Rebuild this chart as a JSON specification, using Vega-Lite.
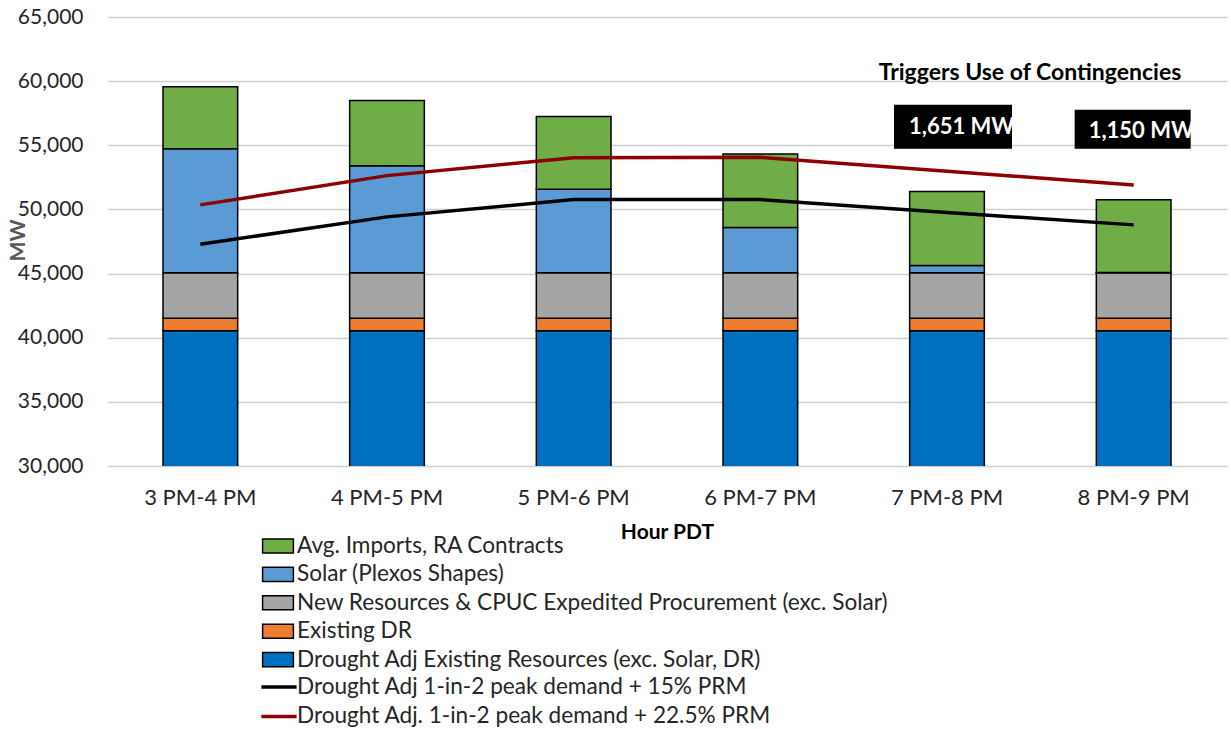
{
  "$schema": "https://vega.github.io/schema/vega-lite/v6.json",
  "width": 1120,
  "height": 449,
  "autosize": {"type": "none"},
  "padding": {"left": 107, "top": 17, "right": 4, "bottom": 263},
  "background": "white",
  "config": {
    "view": {"stroke": null},
    "font": "Lato",
    "text": {"font": "Lato"}
  },
  "datasets": {
    "bars": [
      {"hour": "3 PM-4 PM", "resource": "Drought Adj Existing Resources (exc. Solar, DR)", "k": 1, "mw": 40540},
      {"hour": "3 PM-4 PM", "resource": "Existing DR", "k": 2, "mw": 984},
      {"hour": "3 PM-4 PM", "resource": "New Resources & CPUC Expedited Procurement (exc. Solar)", "k": 3, "mw": 3534},
      {"hour": "3 PM-4 PM", "resource": "Solar (Plexos Shapes)", "k": 4, "mw": 9679},
      {"hour": "3 PM-4 PM", "resource": "Avg. Imports, RA Contracts", "k": 5, "mw": 4828},
      {"hour": "4 PM-5 PM", "resource": "Drought Adj Existing Resources (exc. Solar, DR)", "k": 1, "mw": 40540},
      {"hour": "4 PM-5 PM", "resource": "Existing DR", "k": 2, "mw": 984},
      {"hour": "4 PM-5 PM", "resource": "New Resources & CPUC Expedited Procurement (exc. Solar)", "k": 3, "mw": 3534},
      {"hour": "4 PM-5 PM", "resource": "Solar (Plexos Shapes)", "k": 4, "mw": 8355},
      {"hour": "4 PM-5 PM", "resource": "Avg. Imports, RA Contracts", "k": 5, "mw": 5085},
      {"hour": "5 PM-6 PM", "resource": "Drought Adj Existing Resources (exc. Solar, DR)", "k": 1, "mw": 40540},
      {"hour": "5 PM-6 PM", "resource": "Existing DR", "k": 2, "mw": 984},
      {"hour": "5 PM-6 PM", "resource": "New Resources & CPUC Expedited Procurement (exc. Solar)", "k": 3, "mw": 3534},
      {"hour": "5 PM-6 PM", "resource": "Solar (Plexos Shapes)", "k": 4, "mw": 6510},
      {"hour": "5 PM-6 PM", "resource": "Avg. Imports, RA Contracts", "k": 5, "mw": 5684},
      {"hour": "6 PM-7 PM", "resource": "Drought Adj Existing Resources (exc. Solar, DR)", "k": 1, "mw": 40540},
      {"hour": "6 PM-7 PM", "resource": "Existing DR", "k": 2, "mw": 984},
      {"hour": "6 PM-7 PM", "resource": "New Resources & CPUC Expedited Procurement (exc. Solar)", "k": 3, "mw": 3534},
      {"hour": "6 PM-7 PM", "resource": "Solar (Plexos Shapes)", "k": 4, "mw": 3528},
      {"hour": "6 PM-7 PM", "resource": "Avg. Imports, RA Contracts", "k": 5, "mw": 5739},
      {"hour": "7 PM-8 PM", "resource": "Drought Adj Existing Resources (exc. Solar, DR)", "k": 1, "mw": 40540},
      {"hour": "7 PM-8 PM", "resource": "Existing DR", "k": 2, "mw": 984},
      {"hour": "7 PM-8 PM", "resource": "New Resources & CPUC Expedited Procurement (exc. Solar)", "k": 3, "mw": 3534},
      {"hour": "7 PM-8 PM", "resource": "Solar (Plexos Shapes)", "k": 4, "mw": 569},
      {"hour": "7 PM-8 PM", "resource": "Avg. Imports, RA Contracts", "k": 5, "mw": 5762},
      {"hour": "8 PM-9 PM", "resource": "Drought Adj Existing Resources (exc. Solar, DR)", "k": 1, "mw": 40540},
      {"hour": "8 PM-9 PM", "resource": "Existing DR", "k": 2, "mw": 984},
      {"hour": "8 PM-9 PM", "resource": "New Resources & CPUC Expedited Procurement (exc. Solar)", "k": 3, "mw": 3534},
      {"hour": "8 PM-9 PM", "resource": "Solar (Plexos Shapes)", "k": 4, "mw": 30},
      {"hour": "8 PM-9 PM", "resource": "Avg. Imports, RA Contracts", "k": 5, "mw": 5662}
    ],
    "lines": [
      {"hour": "3 PM-4 PM", "series": "Drought Adj 1-in-2 peak demand + 15% PRM", "mw": 47286},
      {"hour": "4 PM-5 PM", "series": "Drought Adj 1-in-2 peak demand + 15% PRM", "mw": 49420},
      {"hour": "5 PM-6 PM", "series": "Drought Adj 1-in-2 peak demand + 15% PRM", "mw": 50766},
      {"hour": "6 PM-7 PM", "series": "Drought Adj 1-in-2 peak demand + 15% PRM", "mw": 50766},
      {"hour": "7 PM-8 PM", "series": "Drought Adj 1-in-2 peak demand + 15% PRM", "mw": 49760},
      {"hour": "8 PM-9 PM", "series": "Drought Adj 1-in-2 peak demand + 15% PRM", "mw": 48796},
      {"hour": "3 PM-4 PM", "series": "Drought Adj. 1-in-2 peak demand + 22.5% PRM", "mw": 50354},
      {"hour": "4 PM-5 PM", "series": "Drought Adj. 1-in-2 peak demand + 22.5% PRM", "mw": 52635},
      {"hour": "5 PM-6 PM", "series": "Drought Adj. 1-in-2 peak demand + 22.5% PRM", "mw": 54037},
      {"hour": "6 PM-7 PM", "series": "Drought Adj. 1-in-2 peak demand + 22.5% PRM", "mw": 54060},
      {"hour": "7 PM-8 PM", "series": "Drought Adj. 1-in-2 peak demand + 22.5% PRM", "mw": 52970},
      {"hour": "8 PM-9 PM", "series": "Drought Adj. 1-in-2 peak demand + 22.5% PRM", "mw": 51911}
    ],
    "boxes": [
      {"hour": "7 PM-8 PM", "top": 58164, "bottom": 54737, "ty": 56450, "label": "1,651 MW"},
      {"hour": "8 PM-9 PM", "top": 57775, "bottom": 54737, "ty": 56084, "label": "1,150 MW"}
    ],
    "heading": [
      {"hour": "7 PM-8 PM", "ty": 60655, "label": "Triggers Use of Contingencies"}
    ]
  },
  "encoding": {
    "x": {
      "field": "hour",
      "type": "nominal",
      "sort": null,
      "scale": {"paddingInner": 0.6, "paddingOuter": 0.3},
      "axis": {
        "title": "Hour PDT",
        "labelAngle": 0,
        "labelFont": "Lato",
        "labelFontSize": 22,
        "labelColor": "#262626",
        "labelPadding": 21,
        "domain": false,
        "ticks": false,
        "titleFont": "Lato",
        "titleFontSize": 21,
        "titleFontWeight": "bold",
        "titleColor": "#000000",
        "titlePadding": 13
      }
    }
  },
  "layer": [
    {
      "data": {"name": "bars"},
      "mark": {"type": "bar", "stroke": "black", "strokeWidth": 1.5, "clip": true},
      "encoding": {
        "y": {
          "field": "mw",
          "type": "quantitative",
          "stack": "zero",
          "scale": {"domain": [30000, 65000], "nice": false, "zero": false},
          "axis": {
            "title": "MW",
            "values": [30000, 35000, 40000, 45000, 50000, 55000, 60000, 65000],
            "format": ",d",
            "grid": true,
            "gridColor": "#d0d0d0",
            "gridWidth": 1.3,
            "domain": false,
            "ticks": false,
            "labelFont": "Lato",
            "labelFontSize": 21,
            "labelColor": "#262626",
            "labelPadding": 24,
            "titleFont": "Lato",
            "titleFontSize": 21,
            "titleFontWeight": "bold",
            "titleColor": "#595959",
            "titleAngle": -90,
            "titleX": -89,
            "titleY": 223,
            "titleAlign": "center",
            "titleBaseline": "middle"
          }
        },
        "fill": {
          "field": "resource",
          "type": "nominal",
          "scale": {
            "domain": [
              "Avg. Imports, RA Contracts",
              "Solar (Plexos Shapes)",
              "New Resources & CPUC Expedited Procurement (exc. Solar)",
              "Existing DR",
              "Drought Adj Existing Resources (exc. Solar, DR)"
            ],
            "range": ["#70AD47", "#5B9BD5", "#A5A5A5", "#ED7D31", "#0070C0"]
          },
          "legend": {
            "orient": "none",
            "legendX": 159,
            "legendY": 517,
            "title": null,
            "padding": 0,
            "direction": "vertical",
            "symbolType": "M-1.4,-0.64H1.4V0.64H-1.4Z",
            "symbolSize": 484,
            "symbolStrokeColor": "black",
            "symbolStrokeWidth": 1.5,
            "symbolOpacity": 1,
            "labelFont": "Lato",
            "labelFontSize": 22.6,
            "labelColor": "#262626",
            "labelOffset": 7,
            "rowPadding": 4.4,
            "labelLimit": 800
          }
        },
        "order": {"field": "k", "type": "quantitative"}
      }
    },
    {
      "data": {"name": "lines"},
      "mark": {"type": "line", "strokeWidth": 3.5},
      "encoding": {
        "y": {"field": "mw", "type": "quantitative"},
        "stroke": {
          "field": "series",
          "type": "nominal",
          "scale": {
            "domain": [
              "Drought Adj 1-in-2 peak demand + 15% PRM",
              "Drought Adj. 1-in-2 peak demand + 22.5% PRM"
            ],
            "range": ["#000000", "#8C0000"]
          },
          "legend": {
            "orient": "none",
            "legendX": 159,
            "legendY": 657,
            "title": null,
            "padding": 0,
            "direction": "vertical",
            "symbolType": "M-1.6,0H1.6",
            "symbolSize": 484,
            "symbolStrokeWidth": 3.5,
            "labelFont": "Lato",
            "labelFontSize": 22.6,
            "labelColor": "#262626",
            "labelOffset": 5,
            "rowPadding": 4.4,
            "labelLimit": 800
          }
        }
      }
    },
    {
      "data": {"name": "boxes"},
      "transform": [{"filter": "datum.label === '1,651 MW'"}],
      "layer": [
        {
          "mark": {"type": "bar", "color": "black", "width": 118, "xOffset": 6},
          "encoding": {
            "y": {"field": "top", "type": "quantitative"},
            "y2": {"field": "bottom"}
          }
        },
        {
          "mark": {"type": "text", "color": "white", "font": "Lato", "fontWeight": "bold", "fontSize": 22, "align": "left", "baseline": "middle", "dx": -38},
          "encoding": {
            "y": {"field": "ty", "type": "quantitative"},
            "text": {"field": "label"}
          }
        }
      ]
    },
    {
      "data": {"name": "boxes"},
      "transform": [{"filter": "datum.label === '1,150 MW'"}],
      "layer": [
        {
          "mark": {"type": "bar", "color": "black", "width": 116, "xOffset": -1},
          "encoding": {
            "y": {"field": "top", "type": "quantitative"},
            "y2": {"field": "bottom"}
          }
        },
        {
          "mark": {"type": "text", "color": "white", "font": "Lato", "fontWeight": "bold", "fontSize": 22, "align": "left", "baseline": "middle", "dx": -45},
          "encoding": {
            "y": {"field": "ty", "type": "quantitative"},
            "text": {"field": "label"}
          }
        }
      ]
    },
    {
      "data": {"name": "heading"},
      "mark": {"type": "text", "color": "black", "font": "Lato", "fontWeight": "bold", "fontSize": 23, "align": "center", "baseline": "middle", "dx": 83},
      "encoding": {
        "y": {"field": "ty", "type": "quantitative"},
        "text": {"field": "label"}
      }
    }
  ]
}
